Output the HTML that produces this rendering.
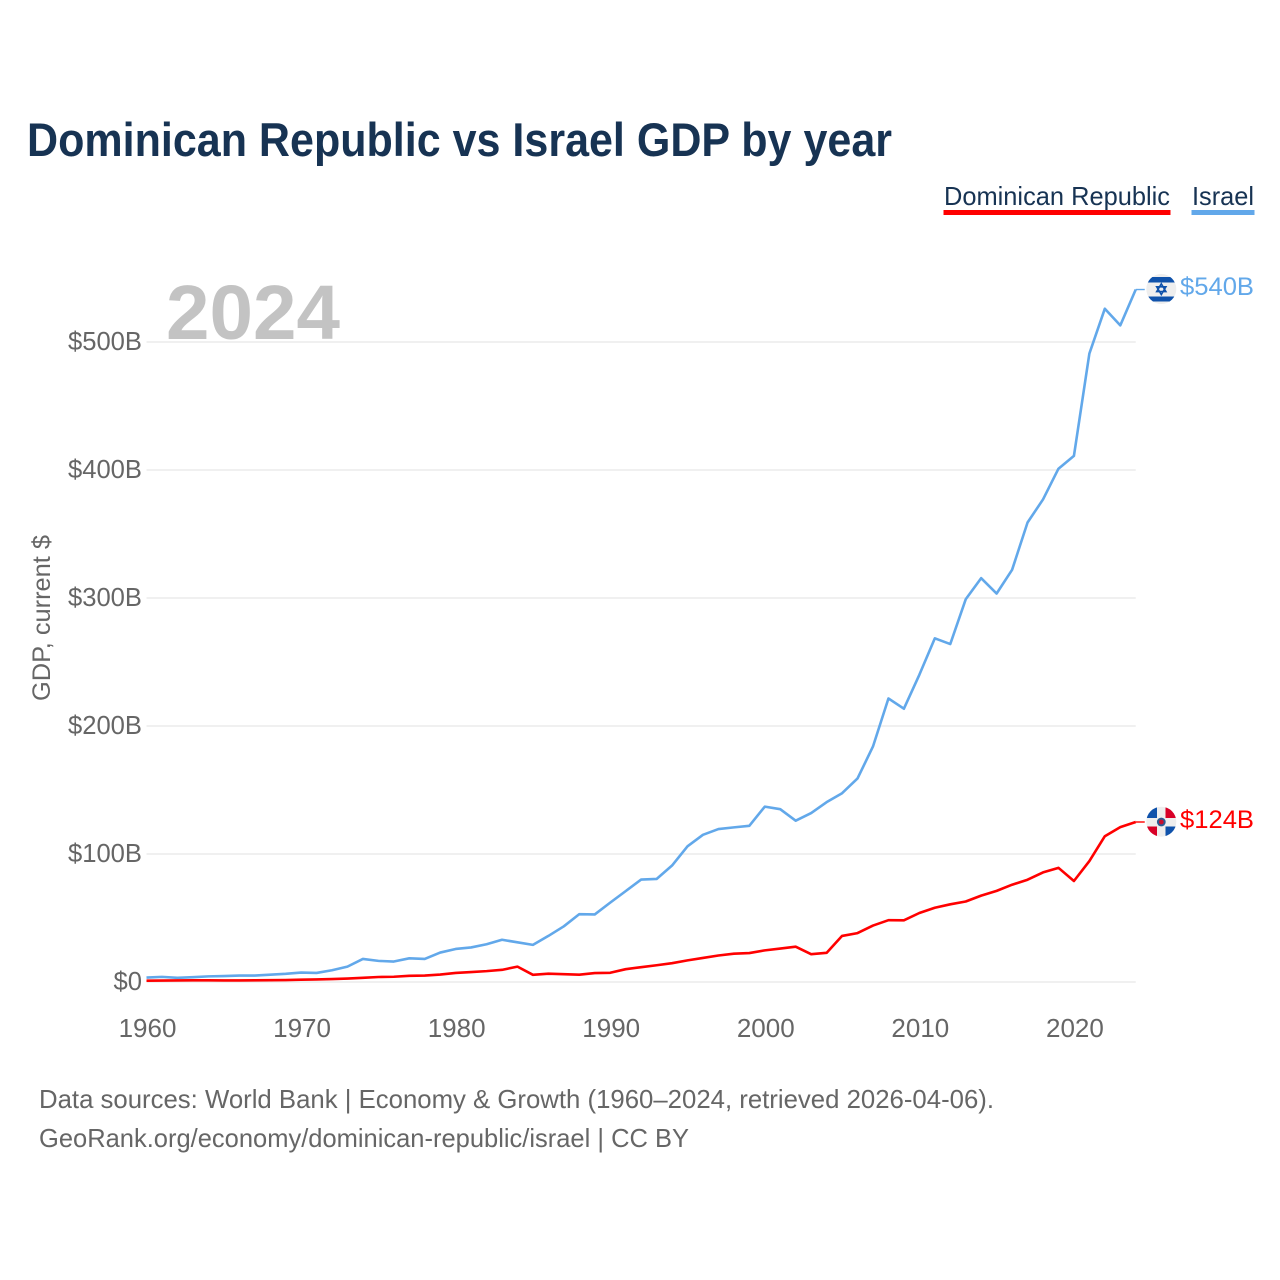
<!DOCTYPE html>
<html lang="en">
<head>
<meta charset="utf-8">
<title>Dominican Republic vs Israel GDP by year</title>
<style>
  html, body { margin: 0; padding: 0; background: #fff; }
  body { width: 1280px; height: 1280px; overflow: hidden; }
  svg { display: block; font-family: "Liberation Sans", sans-serif; }
</style>
</head>
<body>
<svg id="chart" xmlns="http://www.w3.org/2000/svg" width="1280" height="1280" viewBox="0 0 1280 1280">
  <defs>
    <clipPath id="clip-il"><circle cx="1161.3" cy="289" r="15"/></clipPath>
    <clipPath id="clip-do"><circle cx="1161.3" cy="821.7" r="15"/></clipPath>
  </defs>
  <rect x="0" y="0" width="1280" height="1280" fill="#ffffff"/>

  <text x="27" y="156" font-size="47" font-weight="700" fill="#173353" textLength="865" lengthAdjust="spacingAndGlyphs">Dominican Republic vs Israel GDP by year</text>

  <g>
    <g>
      <text x="944" y="205" font-size="26" fill="#173353" textLength="226" lengthAdjust="spacingAndGlyphs">Dominican Republic</text>
      <rect x="943.5" y="210" width="227" height="5" fill="#ff0000"/>
    </g>
    <g>
      <text x="1192" y="205" font-size="26" fill="#173353" textLength="62" lengthAdjust="spacingAndGlyphs">Israel</text>
      <rect x="1191.5" y="210" width="63" height="5" fill="#62a8ea"/>
    </g>
  </g>

  <text x="166" y="339" font-size="77" font-weight="700" fill="#c3c3c3" textLength="174" lengthAdjust="spacingAndGlyphs">2024</text>

  <text transform="translate(50 618) rotate(-90)" text-anchor="middle" font-size="25" fill="#666666" textLength="166" lengthAdjust="spacingAndGlyphs">GDP, current $</text>

  <g id="grid"></g>
  <g id="y-ticks"></g>
  <g id="x-ticks"></g>
  <g id="series"></g>

  <g>
    <g clip-path="url(#clip-il)">
      <rect x="1146" y="274" width="31" height="31" fill="#eeeeee"/>
      <rect x="1146" y="277" width="31" height="5.5" fill="#0f52ab"/>
      <rect x="1146" y="296.5" width="31" height="5" fill="#0f52ab"/>
      <path d="M1161.3 283.8 L1165.9 291.6 L1156.7 291.6 Z" fill="none" stroke="#0f52ab" stroke-width="1.6"/>
      <path d="M1161.3 294.6 L1165.9 286.8 L1156.7 286.8 Z" fill="none" stroke="#0f52ab" stroke-width="1.6"/>
    </g>
  </g>
  <g>
    <g clip-path="url(#clip-do)">
      <rect x="1146" y="806" width="31" height="31" fill="#eeeeee"/>
      <rect x="1146" y="806" width="11" height="12" fill="#0f52ab"/>
      <rect x="1165.5" y="806" width="11.5" height="12" fill="#d80027"/>
      <rect x="1146" y="826.5" width="11" height="11" fill="#d80027"/>
      <rect x="1165.5" y="826.5" width="11.5" height="11" fill="#0f52ab"/>
      <circle cx="1161.3" cy="822" r="4.4" fill="#2b5b94"/>
      <circle cx="1161.3" cy="822" r="2.4" fill="#c8102e"/>
    </g>
  </g>

  <text id="end-label-israel" x="1180" y="295" font-size="25" fill="#62a8ea" textLength="74" lengthAdjust="spacingAndGlyphs">$540B</text>
  <text id="end-label-dr" x="1180" y="828" font-size="25" fill="#ff0000" textLength="74" lengthAdjust="spacingAndGlyphs">$124B</text>

  <g>
    <text x="39" y="1108" font-size="26" fill="#666666" textLength="955" lengthAdjust="spacingAndGlyphs">Data sources: World Bank | Economy &amp; Growth (1960–2024, retrieved 2026-04-06).</text>
    <text x="39" y="1147" font-size="26" fill="#666666" textLength="650" lengthAdjust="spacingAndGlyphs">GeoRank.org/economy/dominican-republic/israel | CC BY</text>
  </g>
</svg>
<script>
const firstYear = 1960;
const israelGdp = [3.5,4,3.3,3.8,4.4,4.6,5,5,5.7,6.4,7.4,7.1,9.2,12,18,16.5,16,18.5,18,23,25.8,27,29.5,33,31,29,36,43.5,53,52.8,62,71,80,80.5,91,106,115,119.5,120.8,122,137,135,126,132,140.5,147.5,159,184,221.5,213.5,240,268.5,264,299,315.5,303.5,322,359,377,401,411,491,526,513,541];
const dominicanGdp = [1,1.1,1.2,1.3,1.3,1.2,1.25,1.3,1.4,1.5,1.8,2,2.3,2.7,3.3,3.9,4.1,4.8,5,5.8,7.1,7.8,8.5,9.5,12,5.6,6.5,6.1,5.7,7,7.2,10,11.6,13.1,14.7,16.9,18.8,20.7,22.1,22.6,24.7,26.1,27.6,21.7,22.8,36,38.2,44.1,48.3,48.2,53.9,58,60.7,62.9,67.5,71.2,76,79.9,85.6,89.2,78.9,94.5,113.9,121,125];
const yTickValues = [0,100,200,300,400,500];
const yTickLabels = ["$0","$100B","$200B","$300B","$400B","$500B"];
const xTickYears = [1960,1970,1980,1990,2000,2010,2020];

const SVG_NS = "http://www.w3.org/2000/svg";
const xScale = function (year) { return 146.5 + (year - 1960) * 15.457; };
const yScale = function (value) { return 982 - value * 1.28; };

const gridGroup = document.getElementById("grid");
const yTickGroup = document.getElementById("y-ticks");
const xTickGroup = document.getElementById("x-ticks");
const seriesGroup = document.getElementById("series");

yTickValues.forEach(function (value, i) {
  const gridLine = document.createElementNS(SVG_NS, "line");
  
  
  gridLine.setAttribute("x1", xScale(1960));
  gridLine.setAttribute("x2", xScale(2024));
  gridLine.setAttribute("y1", yScale(value));
  gridLine.setAttribute("y2", yScale(value));
  gridLine.setAttribute("stroke", "#ececec");
  gridLine.setAttribute("stroke-width", "1.4");
  gridGroup.appendChild(gridLine);

  const tickLabel = document.createElementNS(SVG_NS, "text");
  
  
  tickLabel.setAttribute("x", 142);
  tickLabel.setAttribute("y", yScale(value) + 8);
  tickLabel.setAttribute("text-anchor", "end");
  tickLabel.setAttribute("font-size", "25.6");
  tickLabel.setAttribute("fill", "#666666");
  tickLabel.textContent = yTickLabels[i];
  yTickGroup.appendChild(tickLabel);
});

xTickYears.forEach(function (year) {
  const tickLabel = document.createElementNS(SVG_NS, "text");
  
  
  tickLabel.setAttribute("x", xScale(year) + 1);
  tickLabel.setAttribute("y", 1037);
  tickLabel.setAttribute("text-anchor", "middle");
  tickLabel.setAttribute("font-size", "26");
  tickLabel.setAttribute("fill", "#666666");
  tickLabel.textContent = String(year);
  xTickGroup.appendChild(tickLabel);
});

function drawSeries(values, color) {
  const points = values.map(function (value, i) {
    return xScale(firstYear + i).toFixed(2) + "," + yScale(value).toFixed(2);
  });
  const lastValue = values[values.length - 1];
  const lastX = xScale(firstYear + values.length - 1);

  const line = document.createElementNS(SVG_NS, "polyline");
  
  
  line.setAttribute("points", points.join(" "));
  line.setAttribute("fill", "none");
  line.setAttribute("stroke", color);
  line.setAttribute("stroke-width", "2.6");
  line.setAttribute("stroke-linejoin", "round");
  seriesGroup.appendChild(line);

  const connector = document.createElementNS(SVG_NS, "line");
  
  
  connector.setAttribute("x1", lastX);
  connector.setAttribute("x2", lastX + 9);
  connector.setAttribute("y1", yScale(lastValue));
  connector.setAttribute("y2", yScale(lastValue));
  connector.setAttribute("stroke", color);
  connector.setAttribute("stroke-width", "1.4");
  seriesGroup.appendChild(connector);
}

drawSeries(israelGdp, "#62a8ea");
drawSeries(dominicanGdp, "#ff0000");
</script>
</body>
</html>
